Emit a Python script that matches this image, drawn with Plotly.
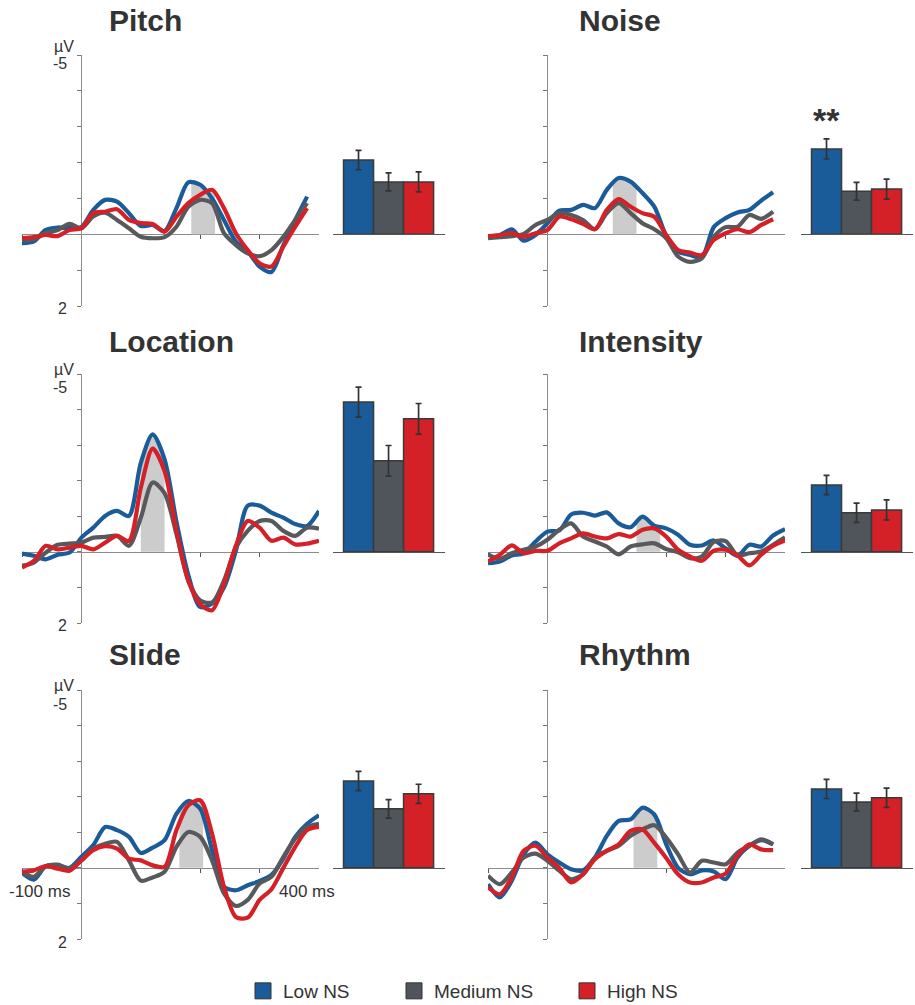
import numpy as np
import plotly.graph_objects as go

W, H = 915, 1005
FONT = "Liberation Sans, Arial, sans-serif"
TXT = "#333333"

# ---------------- data ----------------
T_SHORT = list(range(-100, 381, 20))   # ms
T_LONG = list(range(-100, 401, 20))    # ms

CONDITIONS = ["Low NS", "Medium NS", "High NS"]
LINE_COLORS = ["#1a5c99", "#58595c", "#d42127"]
BAR_COLORS = ["#1a5c99", "#50555c", "#d42127"]

PANELS = ["Pitch", "Noise", "Location", "Intensity", "Slide", "Rhythm"]

pitch_low = [0.25, 0.2, -0.12, -0.19, -0.17, -0.2, -0.68, -0.96, -0.91, -0.59, -0.23, -0.26, -0.09,
             -0.73, -1.45, -1.38, -1.0, -0.4, 0.2, 0.48, 0.9, 1.05, 0.3, -0.4, -1.05]
pitch_med = [0.16, 0.14, -0.03, -0.12, -0.29, -0.17, -0.5, -0.6, -0.4, -0.17, 0.07, 0.11, 0.08,
             -0.21, -0.77, -0.96, -0.87, -0.03, 0.3, 0.53, 0.61, 0.44, 0.07, -0.4, -0.87]
pitch_high = [0.11, 0.08, 0.02, 0.05, -0.12, -0.17, -0.59, -0.63, -0.7, -0.4, -0.31, -0.29, -0.07,
              -0.49, -0.87, -1.1, -1.24, -0.73, -0.03, 0.44, 0.81, 0.9, 0.34, -0.21, -0.73]

noise_low = [0.07, 0.02, -0.14, 0.18, 0.02, -0.31, -0.66, -0.68, -0.82, -0.73, -1.24, -1.57, -1.47,
             -1.15, -0.77, 0.04, 0.48, 0.58, 0.64, -0.2, -0.45, -0.61, -0.68, -0.94, -1.17]
noise_med = [0.11, 0.08, 0.05, -0.01, -0.26, -0.4, -0.59, -0.54, -0.4, -0.14, -0.59, -0.87, -0.59,
             -0.31, -0.14, 0.11, 0.62, 0.77, 0.67, 0.07, -0.2, -0.21, -0.54, -0.43, -0.63]
noise_high = [0.05, 0.02, -0.03, 0.07, -0.03, -0.12, -0.49, -0.42, -0.29, -0.14, -0.68, -0.98, -0.77,
              -0.59, -0.49, 0.02, 0.44, 0.51, 0.58, 0.16, -0.03, -0.14, -0.06, -0.26, -0.42]

location_low = [0.05, 0.11, 0.21, 0.08, 0.02, -0.4, -0.68, -1.01, -1.15, -1.01, -2.5, -3.3, -2.6,
                -0.85, 0.65, 1.55, 1.45, 1.0, -0.03, -1.3, -1.3, -1.1, -0.96, -0.78, -0.73, -1.15]
location_med = [0.39, 0.3, 0.02, -0.2, -0.23, -0.26, -0.4, -0.42, -0.45, -0.17, -0.96, -1.95, -1.65,
                -0.5, 0.81, 1.37, 1.42, 0.81, -0.12, -0.59, -0.87, -0.87, -0.59, -0.45, -0.68, -0.65]
location_high = [0.44, 0.25, -0.17, -0.07, -0.12, -0.17, -0.07, -0.26, -0.45, -0.31, -1.8, -2.9, -2.27,
                 -0.59, 0.81, 1.47, 1.64, 0.9, -0.17, -0.87, -0.68, -0.31, -0.4, -0.21, -0.23, -0.31]

intensity_low = [0.32, 0.27, 0.1, 0.04, -0.29, -0.57, -0.6, -1.05, -1.1, -1.02, -1.11, -0.8, -0.69,
                 -0.99, -0.74, -0.66, -0.48, -0.2, -0.18, -0.32, -0.1, 0.11, -0.2, -0.15, -0.46, -0.64]
intensity_med = [0.07, 0.2, 0.04, -0.06, -0.15, -0.34, -0.62, -0.8, -0.43, -0.29, -0.15, 0.07, -0.15,
                 -0.21, -0.24, -0.08, 0.01, 0.18, 0.13, -0.28, -0.3, 0.1, 0.04, -0.01, -0.2, -0.41]
intensity_high = [0.27, 0.08, -0.18, 0.04, -0.03, -0.03, -0.24, -0.38, -0.52, -0.43, -0.38, -0.5, -0.43,
                  -0.62, -0.66, -0.43, -0.06, 0.13, 0.25, -0.03, -0.06, 0.1, 0.38, 0.08, -0.17, -0.32]

slide_low = [0.14, 0.33, -0.05, -0.07, 0.0, -0.31, -0.64, -1.15, -1.06, -0.87, -0.42, -0.57, -0.78,
             -1.52, -1.88, -1.66, -0.5, 0.53, 0.63, 0.49, 0.37, 0.2, -0.26, -0.87, -1.24, -1.48]
slide_med = [0.11, 0.25, -0.05, -0.09, 0.02, -0.21, -0.54, -0.68, -0.73, -0.21, 0.36, 0.27, 0.11,
             -0.59, -1.01, -0.87, -0.21, 0.72, 1.07, 0.9, 0.44, 0.25, -0.31, -0.82, -1.15, -1.24]
slide_high = [0.11, 0.07, -0.05, 0.02, 0.08, -0.21, -0.5, -0.61, -0.54, -0.26, -0.21, -0.07, -0.03,
              -1.06, -1.76, -1.9, -0.96, 0.53, 1.38, 1.4, 0.9, 0.6, 0.0, -0.59, -1.06, -1.15]

rhythm_low = [0.46, 0.83, 0.36, -0.38, -0.71, -0.38, -0.15, 0.04, 0.07, -0.29, -0.9, -1.32, -1.36,
              -1.69, -1.5, -0.66, 0.0, 0.18, 0.07, 0.1, 0.32, -0.29, -0.62, -0.78, -0.66]
rhythm_med = [0.22, 0.46, 0.13, -0.29, -0.4, -0.2, 0.08, 0.32, 0.18, -0.29, -0.48, -0.62, -0.9,
              -1.08, -1.2, -0.85, -0.38, 0.13, -0.2, -0.15, -0.1, -0.43, -0.62, -0.8, -0.66]
rhythm_high = [0.55, 0.74, 0.27, -0.48, -0.62, -0.29, 0.0, 0.41, 0.18, -0.24, -0.48, -0.66, -1.04,
               -1.08, -0.7, -0.28, 0.18, 0.41, 0.41, 0.27, 0.16, -0.34, -0.66, -0.52, -0.5]

# mean amplitude (µV) in the shaded window and its standard error
bar_pitch = [-2.07, -1.46, -1.46]
err_pitch = [0.27, 0.25, 0.28]
bar_noise = [-2.38, -1.2, -1.26]
err_noise = [0.28, 0.25, 0.28]
bar_location = [-4.21, -2.56, -3.74]
err_location = [0.42, 0.43, 0.43]
bar_intensity = [-1.88, -1.1, -1.18]
err_intensity = [0.27, 0.27, 0.28]
bar_slide = [-2.44, -1.66, -2.08]
err_slide = [0.27, 0.26, 0.27]
bar_rhythm = [-2.22, -1.85, -1.97]
err_rhythm = [0.27, 0.25, 0.27]

# analysis windows (ms)
win_pitch = (185, 225)
win_noise = (110, 150)
win_location = (100, 140)
win_intensity = (150, 190)
win_slide = (165, 205)
win_rhythm = (145, 185)

Y_TICKS = [-5, -4, -3, -2, -1, 0, 1, 2]
X_TICKS = [-100, 200, 300]
SIGNIF = {"Noise": "**"}

ERP = {
    "Pitch": (T_SHORT, [pitch_low, pitch_med, pitch_high], win_pitch, bar_pitch, err_pitch),
    "Noise": (T_SHORT, [noise_low, noise_med, noise_high], win_noise, bar_noise, err_noise),
    "Location": (T_LONG, [location_low, location_med, location_high], win_location, bar_location, err_location),
    "Intensity": (T_LONG, [intensity_low, intensity_med, intensity_high], win_intensity, bar_intensity, err_intensity),
    "Slide": (T_LONG, [slide_low, slide_med, slide_high], win_slide, bar_slide, err_slide),
    "Rhythm": (T_SHORT, [rhythm_low, rhythm_med, rhythm_high], win_rhythm, bar_rhythm, err_rhythm),
}

# ---------------- layout geometry (pixels) ----------------
ROWS = [(55, 306), (374, 623), (690, 939)]
ERP_X = [(22, 319), (488, 785)]
BAR_X = [(333, 445), (801, 913)]
TITLE_Y = [21, 341, 654]
TITLE_X = [107, 577]


def px(x):
    return x / W


def py(y):
    return 1 - y / H


fig = go.Figure()
layout = dict(
    width=W, height=H, autosize=False,
    margin=dict(l=0, r=0, t=0, b=0, autoexpand=False),
    paper_bgcolor="white", plot_bgcolor="rgba(0,0,0,0)",
    showlegend=True, font=dict(family=FONT, color=TXT),
)
annotations = []

for i, name in enumerate(PANELS):
    r, c = divmod(i, 2)
    T, series, win, bars, errs = ERP[name]
    ka, kb = 2 * i + 1, 2 * i + 2
    xa = "x" if ka == 1 else f"x{ka}"
    ya = "y" if ka == 1 else f"y{ka}"
    xb, yb = f"x{kb}", f"y{kb}"
    top, bot = ROWS[r]
    zero_px = bot - (bot - top) * 2 / 7
    t0_px = ERP_X[c][0] + (ERP_X[c][1] - ERP_X[c][0]) * 100 / 500

    # shaded window under the envelope of the three waves
    tf = np.linspace(win[0], win[1], 41)
    env = np.min([np.interp(tf, T, s) for s in series], axis=0)
    fig.add_trace(go.Scatter(x=tf, y=env, mode="lines", line=dict(width=0),
                             fill="tozeroy", fillcolor="#cccccc",
                             xaxis=xa, yaxis=ya, showlegend=False, hoverinfo="skip"))
    for s, col, cond in zip(series, LINE_COLORS, CONDITIONS):
        fig.add_trace(go.Scatter(x=T, y=s, mode="lines", name=cond,
                                 line=dict(color=col, width=4.2, shape="spline", smoothing=0.8),
                                 xaxis=xa, yaxis=ya, showlegend=False))
    fig.add_trace(go.Bar(x=[0, 1, 2], y=bars, width=1,
                         marker=dict(color=BAR_COLORS, line=dict(color="#3a3a3a", width=1.5)),
                         error_y=dict(type="data", array=errs, color="#333333", thickness=1.7, width=3),
                         xaxis=xb, yaxis=yb, showlegend=False))

    axk = "" if ka == 1 else str(ka)
    layout[f"xaxis{axk}"] = dict(
        domain=[px(ERP_X[c][0]), px(ERP_X[c][1])], range=[-100, 400],
        anchor="free", position=py(zero_px), showline=True, linecolor="#8c8c8c", linewidth=1,
        ticks="outside", tickvals=X_TICKS, ticklen=4, tickcolor="#555555", tickwidth=1,
        showticklabels=False, showgrid=False, zeroline=False, layer="below traces")
    layout[f"yaxis{axk}"] = dict(
        domain=[py(bot), py(top)], range=[2, -5],
        anchor="free", position=px(t0_px), showline=True, linecolor="#8c8c8c", linewidth=1,
        ticks="outside", tickvals=Y_TICKS, ticklen=4, tickcolor="#777777", tickwidth=1,
        showticklabels=False, showgrid=False, zeroline=False, layer="below traces")
    layout[f"xaxis{kb}"] = dict(
        domain=[px(BAR_X[c][0]), px(BAR_X[c][1])], range=[-0.85, 2.88],
        anchor="free", position=py(zero_px), showline=True, linecolor="#555555", linewidth=1.3,
        ticks="inside", tickvals=[-0.84, 2.87], ticklen=5, tickcolor="#555555", tickwidth=1.3,
        showticklabels=False, showgrid=False, zeroline=False)
    layout[f"yaxis{kb}"] = dict(domain=[py(bot), py(top)], range=[2, -5], anchor=xb, visible=False)

    annotations.append(dict(text=name, x=px(TITLE_X[c]), y=py(TITLE_Y[r]), xref="paper", yref="paper",
                            xanchor="left", yanchor="middle", showarrow=False,
                            font=dict(size=30, family=FONT, color=TXT, weight="bold")))
    if name in SIGNIF:
        annotations.append(dict(text=SIGNIF[name], x=0, y=-3.2, xref=xb, yref=yb,
                                xanchor="center", yanchor="middle", showarrow=False,
                                font=dict(size=34, family=FONT, color=TXT, weight="bold")))

# µV / tick labels on the left column
for (top, bot), uv_y, m5_y, p2_y in zip(ROWS, [47, 369, 685], [64, 387, 704], [308, 625, 942]):
    for txt, yy, xr in [("µV", uv_y, 76), ("-5", m5_y, 69), ("2", p2_y, 69)]:
        annotations.append(dict(text=txt, x=px(xr), y=py(yy), xref="paper", yref="paper",
                                xanchor="right", yanchor="middle", showarrow=False,
                                font=dict(size=16, family=FONT, color=TXT)))
for txt, xl in [("-100 ms", 7), ("400 ms", 277)]:
    annotations.append(dict(text=txt, x=px(xl), y=py(891), xref="paper", yref="paper",
                            xanchor="left", yanchor="middle", showarrow=False,
                            font=dict(size=17, family=FONT, color=TXT)))

# legend (one legend box per condition)
LEG_X = [243, 394, 567]
for j, (cond, col) in enumerate(zip(CONDITIONS, BAR_COLORS)):
    lname = "legend" if j == 0 else f"legend{j + 1}"
    fig.add_trace(go.Scatter(x=[None], y=[None], mode="markers", name=cond,
                             marker=dict(symbol="square", size=18, color=col,
                                         line=dict(color="#333333", width=1)),
                             xaxis="x", yaxis="y", legend=lname, showlegend=True))
    layout[lname] = dict(x=px(LEG_X[j]), y=py(991), xanchor="left", yanchor="middle",
                         orientation="h", bgcolor="rgba(0,0,0,0)", borderwidth=0,
                         font=dict(size=19, family=FONT, color=TXT), itemclick=False)

layout["annotations"] = annotations
fig.update_layout(**layout)

PAGE_FIX = (
    "var s=document.createElement('style');"
    "s.textContent='html,body{margin:0;padding:0;width:915px;height:1005px;overflow:hidden;}"
    "body>div{height:1005px;overflow:hidden;line-height:0;}"
    ".plotly-graph-div{display:block;}';"
    "document.head.appendChild(s);"
)
fig.write_html(
    "out.html",
    config={"displayModeBar": False, "responsive": False},
    post_script=PAGE_FIX,
)
